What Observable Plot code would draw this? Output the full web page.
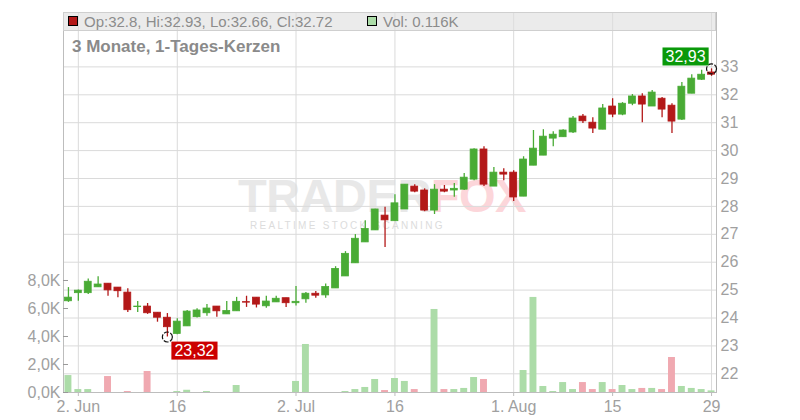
<!DOCTYPE html>
<html>
<head>
<meta charset="utf-8">
<script src="https://cdn.jsdelivr.net/npm/d3@7"></script>
<script src="https://cdn.jsdelivr.net/npm/@observablehq/plot@0.6"></script>
<style>
  body { margin: 0; background: #fff; font-family: "Liberation Sans", Arial, sans-serif; }
  #wrap { position: relative; width: 800px; height: 420px; overflow: hidden; background: #fff; }
  .layer { position: absolute; left: 0; top: 0; }
  .abs { position: absolute; white-space: nowrap; }
</style>
</head>
<body>
<div id="wrap">
  <div id="wm" class="abs" style="left:238px;top:172px;line-height:1;">
    <div style="font-weight:bold;font-size:47px;letter-spacing:-0.5px;"><span style="color:#e8e8e8">TRADER</span><span style="color:#fcd6da">FOX</span></div>
    <div style="font-size:10px;letter-spacing:2.3px;color:#dcdcdc;margin-top:2px;margin-left:12px;">REALTIME STOCK SCANNING</div>
  </div>
  <div id="price" class="layer"></div>
  <div id="vol" class="layer"></div>
  <div class="abs" style="left:63px;top:12px;width:653px;height:19px;background:rgba(222,222,222,0.6);box-sizing:border-box;border:1px solid #cfcfcf;"></div>
  <div class="abs" style="left:68px;top:16px;width:10px;height:10px;background:#b31818;border:1px solid #000;box-sizing:border-box;"></div>
  <div id="ohlc" class="abs" style="left:84px;top:14px;font-size:15px;line-height:15px;color:#8c8c8c;"></div>
  <div class="abs" style="left:367px;top:16px;width:10px;height:10px;background:#acdca8;border:1px solid #000;box-sizing:border-box;"></div>
  <div id="volLegend" class="abs" style="left:383px;top:14px;font-size:15px;line-height:15px;color:#8c8c8c;"></div>
  <div class="abs" style="left:72px;top:38px;font-size:17px;line-height:17px;font-weight:bold;color:#8a8a8a;">3 Monate, 1-Tages-Kerzen</div>
</div>
<script>
const dates = [
  "2025-05-30",
  "2025-06-02","2025-06-03","2025-06-04","2025-06-05","2025-06-06",
  "2025-06-09","2025-06-10","2025-06-11","2025-06-12","2025-06-13",
  "2025-06-16","2025-06-17","2025-06-18","2025-06-19","2025-06-20",
  "2025-06-23","2025-06-24","2025-06-25","2025-06-26","2025-06-27",
  "2025-06-30","2025-07-01","2025-07-02","2025-07-03","2025-07-04",
  "2025-07-07","2025-07-08","2025-07-09","2025-07-10","2025-07-11",
  "2025-07-14","2025-07-15","2025-07-16","2025-07-17","2025-07-18",
  "2025-07-21","2025-07-22","2025-07-23","2025-07-24","2025-07-25",
  "2025-07-28","2025-07-29","2025-07-30","2025-07-31","2025-08-01",
  "2025-08-04","2025-08-05","2025-08-06","2025-08-07","2025-08-08",
  "2025-08-11","2025-08-12","2025-08-13","2025-08-14","2025-08-15",
  "2025-08-18","2025-08-19","2025-08-20","2025-08-21","2025-08-22",
  "2025-08-25","2025-08-26","2025-08-27","2025-08-28","2025-08-29"
];
const open = [
  24.60, 24.89, 24.89, 25.10, 25.23, 25.09, 24.91, 24.39, 24.41, 24.19, 24.01,
  23.43, 23.70, 24.03, 24.17, 24.41, 24.13, 24.24, 24.57, 24.73, 24.42,
  24.56, 24.71, 24.53, 24.67, 24.87, 24.81, 25.06, 25.49, 25.96, 26.71,
  27.14, 27.67, 27.47, 27.89, 28.71, 28.57, 27.85, 28.60, 28.57, 28.60,
  28.96, 30.04, 28.71, 29.21, 29.21, 28.35, 29.46, 29.82, 30.43, 30.48,
  30.65, 31.22, 31.00, 30.75, 31.58, 31.29, 31.68, 31.94, 31.58, 31.86,
  31.61, 31.11, 32.04, 32.54, 32.80
];
const high = [
  25.09, 25.00, 25.40, 25.48, 25.23, 25.09, 25.05, 24.59, 24.52, 24.19, 24.16,
  23.97, 24.27, 24.33, 24.48, 24.41, 24.59, 24.74, 24.78, 24.73, 24.78,
  24.78, 24.71, 25.13, 24.91, 24.95, 25.22, 25.84, 26.38, 26.99, 27.49,
  27.90, 27.97, 28.42, 28.78, 28.78, 28.63, 28.78, 28.75, 28.82, 29.18,
  30.07, 30.14, 29.39, 29.35, 29.28, 29.78, 30.72, 30.75, 30.68, 30.75,
  31.22, 31.29, 31.18, 31.65, 31.86, 31.72, 32.01, 32.04, 32.15, 31.90,
  31.68, 32.44, 32.72, 32.88, 32.93
];
const low = [
  24.56, 24.60, 24.84, 25.10, 24.78, 24.73, 24.20, 24.20, 24.13, 23.85, 23.32,
  23.40, 23.70, 24.00, 24.06, 24.03, 24.13, 24.24, 24.38, 24.36, 24.35,
  24.56, 24.38, 24.43, 24.53, 24.71, 24.71, 25.06, 25.49, 25.96, 26.71,
  27.14, 26.53, 27.47, 27.89, 28.49, 27.81, 27.71, 28.49, 28.33, 28.57,
  28.92, 28.71, 28.71, 28.92, 28.18, 28.35, 29.46, 29.82, 30.14, 30.48,
  30.61, 30.97, 30.61, 30.75, 31.18, 31.25, 31.61, 31.00, 31.58, 31.18,
  30.61, 31.08, 32.04, 32.51, 32.66
];
const close = [
  24.73, 24.98, 25.30, 25.20, 24.99, 24.96, 24.28, 24.41, 24.17, 24.01, 23.67,
  23.87, 24.23, 24.27, 24.34, 24.24, 24.25, 24.58, 24.55, 24.48, 24.59,
  24.69, 24.53, 24.58, 24.87, 24.80, 25.11, 25.76, 26.30, 26.84, 27.19,
  27.89, 27.50, 28.11, 28.78, 28.53, 27.85, 28.60, 28.53, 28.63, 29.03,
  30.04, 28.78, 29.21, 29.14, 28.32, 29.68, 30.07, 30.50, 30.57, 30.72,
  31.15, 31.05, 30.79, 31.51, 31.29, 31.68, 31.94, 31.65, 32.08, 31.47,
  31.04, 32.29, 32.58, 32.72, 32.72
];
// volume in thousands
const volume = [
  1.21, 0.21, 0.21, 0, 1.14, 0, 0.07, 0, 1.50, 0, 0,
  0.07, 0.16, 0, 0.07, 0, 0, 0.50, 0, 0, 0,
  0, 0, 0.79, 3.43, 0, 0, 0, 0.07, 0.21, 0.36,
  0.93, 0.14, 1.00, 0.79, 0.21, 0, 5.93, 0.21, 0.21, 0.29,
  1.07, 0.93, 0, 0, 0, 1.57, 6.79, 0.43, 0.07, 0.71,
  0.21, 0.71, 0.21, 0.71, 0.21, 0.50, 0.21, 0.29, 0.29, 0.21,
  2.50, 0.43, 0.29, 0.21, 0.116
];
const tickDates = ["2025-06-02","2025-06-16","2025-07-02","2025-07-16","2025-08-01","2025-08-15","2025-08-29"];
const tickLabels = ["2. Jun","16","2. Jul","16","1. Aug","15","29"];
const priceTicks = [22,23,24,25,26,27,28,29,30,31,32,33];
const volumeTicks = [0,2,4,6,8];

const GREEN = "#49ab35", RED = "#b31818", LGREEN = "#acdca8", LRED = "#f0a9b1";

const data = dates.map((d, i) => ({
  date: d, open: open[i], high: high[i], low: low[i], close: close[i], volume: volume[i],
  up: close[i] >= open[i],
  volUp: i === 0 ? close[i] >= open[i] : close[i] >= close[i - 1]
}));
const last = data[data.length - 1];
const fmtC = v => v.toFixed(2).replace(".", ",");
document.getElementById("ohlc").textContent = `Op:${last.open}, Hi:${last.high}, Lo:${last.low}, Cl:${last.close}`;
document.getElementById("volLegend").textContent = `Vol: ${last.volume}K`;

const lowIdx = d3.minIndex(low), highIdx = d3.maxIndex(high);

const common = {
  width: 800, height: 420,
  marginLeft: 63, marginRight: 84, marginTop: 12, marginBottom: 28,
  style: { background: "transparent", fontFamily: "'Liberation Sans', Arial, sans-serif", fontSize: "16px", overflow: "visible" },
  color: { type: "identity" }
};
const xBand = { type: "band", domain: dates, paddingInner: 0.3, paddingOuter: 0.15 };

const pricePlot = Plot.plot({
  ...common,
  x: { ...xBand },
  y: { domain: [21.33, 34.95] },
  marks: [
    Plot.gridY(priceTicks, { stroke: "#dadada", strokeOpacity: 1 }),
    Plot.gridX(tickDates, { stroke: "#dadada", strokeOpacity: 1 }),
    Plot.frame({ stroke: "#bdbdbd" }),
    Plot.axisY(priceTicks, { anchor: "right", tickSize: 0, tickPadding: 4, fill: "#a0a0a0", fontSize: 16, label: null }),
    Plot.axisX(tickDates, { anchor: "bottom", tickSize: 4, tickPadding: 4, stroke: "#bdbdbd", fill: "#a0a0a0", fontSize: 16, label: null,
      tickFormat: d => tickLabels[tickDates.indexOf(d)] }),
    Plot.ruleX(data, { x: "date", y1: "low", y2: "high", stroke: d => d.up ? GREEN : RED, strokeWidth: 1.3 }),
    Plot.barY(data, { x: "date", y1: "open", y2: "close", fill: d => d.up ? GREEN : RED, stroke: d => d.up ? GREEN : RED, strokeWidth: 0.8 }),
    Plot.dot([data[lowIdx]], { x: "date", y: "low", r: 5, stroke: "#111", fill: "none", strokeWidth: 1.2, strokeDasharray: "5,1.5" }),
    Plot.dot([data[highIdx]], { x: "date", y: "high", r: 5, stroke: "#111", fill: "none", strokeWidth: 1.2, strokeDasharray: "5,1.5" }),
    Plot.text([data[lowIdx]], { x: "date", y: "low", text: d => fmtC(d.low), dx: 7, dy: 14, textAnchor: "start", fill: "white", fontSize: 16 }),
    Plot.text([data[highIdx]], { x: "date", y: "high", text: d => fmtC(d.high), dx: -6, dy: -12, textAnchor: "end", fill: "white", fontSize: 16 })
  ]
});
document.getElementById("price").appendChild(pricePlot);

const volPlot = Plot.plot({
  ...common,
  x: { ...xBand, axis: null },
  y: { domain: [0, 27.14] },
  marks: [
    Plot.barY(data, { x: "date", y: "volume", fill: d => d.volUp ? LGREEN : LRED }),
    Plot.axisY(volumeTicks, { anchor: "left", tickSize: -5, tickPadding: 8, stroke: "#999", fill: "#a0a0a0", fontSize: 16, label: null,
      tickFormat: d => d.toFixed(1).replace(".", ",") + "K" })
  ]
});
document.getElementById("vol").appendChild(volPlot);

// put a coloured box behind the min / max value labels
function boxify(svg, str, color) {
  const texts = Array.from(svg.querySelectorAll("text")).filter(t => t.textContent === str);
  texts.forEach(t => {
    const b = t.getBBox();
    const r = document.createElementNS("http://www.w3.org/2000/svg", "rect");
    r.setAttribute("x", b.x - 3);
    r.setAttribute("y", b.y - 0.5);
    r.setAttribute("width", b.width + 6);
    r.setAttribute("height", b.height + 1);
    r.setAttribute("fill", color);
    r.setAttribute("stroke", "none");
    if (t.getAttribute("transform")) r.setAttribute("transform", t.getAttribute("transform"));
    t.parentNode.insertBefore(r, t);
  });
}
boxify(pricePlot, fmtC(low[lowIdx]), "#cc0000");
boxify(pricePlot, fmtC(high[highIdx]), "#0a990a");
</script>
</body>
</html>
